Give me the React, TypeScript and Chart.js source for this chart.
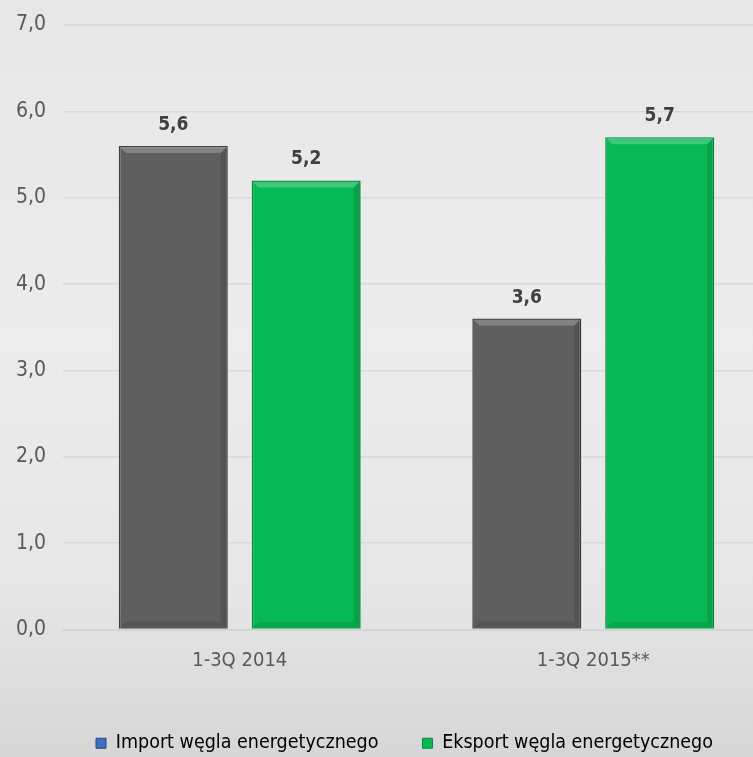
import React, { useEffect, useRef } from "react";
import { Chart, registerables } from "chart.js";

Chart.register(...registerables);

const categories = ["1-3Q 2014", "1-3Q 2015**"];
const importValues = [5.6, 3.6];
const exportValues = [5.2, 5.7];
const seriesNames = ["Import węgla energetycznego", "Eksport węgla energetycznego"];
const yMin = 0;
const yMax = 7;
const yStep = 1;

const FONT = "'DejaVu Sans Condensed', 'Liberation Sans Narrow', sans-serif";

const fmt = (v: number) => v.toFixed(1).replace(".", ",");

const bevelPlugin = {
  id: "bevel",
  afterDatasetsDraw(chart: any) {
    const ctx = chart.ctx;
    chart.data.datasets.forEach((ds: any, di: number) => {
      const meta = chart.getDatasetMeta(di);
      meta.data.forEach((bar: any) => {
        const w = bar.width;
        const l = bar.x - w / 2;
        const r = bar.x + w / 2;
        const t = bar.y;
        const b = bar.base;
        const s = 7;
        ctx.save();
        ctx.fillStyle = "rgba(255,255,255,0.22)";
        ctx.beginPath();
        ctx.moveTo(l + 1, t + 1);
        ctx.lineTo(r - 1, t + 1);
        ctx.lineTo(r - s, t + s);
        ctx.lineTo(l + s, t + s);
        ctx.closePath();
        ctx.fill();
        ctx.fillStyle = "rgba(0,0,0,0.12)";
        ctx.beginPath();
        ctx.moveTo(r - 1, t + 1);
        ctx.lineTo(r - 1, b - 1);
        ctx.lineTo(r - s, b - s);
        ctx.lineTo(r - s, t + s);
        ctx.closePath();
        ctx.fill();
        ctx.fillStyle = "rgba(0,0,0,0.10)";
        ctx.beginPath();
        ctx.moveTo(l + 1, b - 1);
        ctx.lineTo(r - 1, b - 1);
        ctx.lineTo(r - s, b - s);
        ctx.lineTo(l + s, b - s);
        ctx.closePath();
        ctx.fill();
        ctx.restore();
      });
    });
  },
};

const labelPlugin = {
  id: "valueLabels",
  afterDatasetsDraw(chart: any) {
    const ctx = chart.ctx;
    ctx.save();
    ctx.font = `bold 19px ${FONT}`;
    ctx.fillStyle = "#404040";
    ctx.textAlign = "center";
    ctx.textBaseline = "alphabetic";
    chart.data.datasets.forEach((ds: any, di: number) => {
      const meta = chart.getDatasetMeta(di);
      meta.data.forEach((bar: any, i: number) => {
        ctx.fillText(fmt(ds.data[i]), bar.x, bar.y - 16);
      });
    });
    ctx.restore();
  },
};

const legendShiftPlugin = {
  id: "legendShift",
  afterLayout(chart: any) {
    const lg = chart.legend;
    if (!lg) return;
    const shift = 404.5 - (lg.left + lg.right) / 2;
    lg.left += shift;
    lg.right += shift;
    if (lg.legendHitBoxes) lg.legendHitBoxes.forEach((h: any) => { h.left += shift; });
  },
};

export default function App() {
  const ref = useRef<HTMLCanvasElement>(null);
  useEffect(() => {
    if (!ref.current) return;
    const chart = new Chart(ref.current, {
      type: "bar",
      data: {
        labels: categories,
        datasets: [
          {
            label: seriesNames[0],
            data: importValues,
            backgroundColor: "#5f5f5f",
            borderColor: "#3e3e3e",
            borderWidth: 1.5,
          },
          {
            label: seriesNames[1],
            data: exportValues,
            backgroundColor: "#07b955",
            borderColor: "#04883d",
            borderWidth: 1.5,
          },
        ],
      },
      options: {
        animation: false,
        responsive: false,
        maintainAspectRatio: false,
        layout: { padding: { left: 16, top: 25, right: 0, bottom: 0 } },
        datasets: {
          bar: { categoryPercentage: 0.752, barPercentage: 0.82 },
        },
        plugins: {
          tooltip: { enabled: false },
          legend: {
            position: "bottom",
            labels: {
              font: { family: FONT, size: 19.5 },
              color: "#404040",
              boxWidth: 10,
              boxHeight: 10,
              padding: 44,
              generateLabels: () => [
                { text: seriesNames[0], fillStyle: "#3f6fc0", strokeStyle: "#23478a", lineWidth: 1, datasetIndex: 0, hidden: false },
                { text: seriesNames[1], fillStyle: "#07b955", strokeStyle: "#04883d", lineWidth: 1, datasetIndex: 1, hidden: false },
              ] as any,
            },
          },
        },
        scales: {
          x: {
            grid: { display: false, drawTicks: false },
            border: { display: true, color: "#d4d4d4", width: 2 },
            ticks: { font: { family: FONT, size: 20 }, color: "#595959", padding: 19 },
            afterFit: (s: any) => { s.height = 60; },
          },
          y: {
            min: yMin,
            max: yMax,
            ticks: {
              stepSize: yStep,
              font: { family: FONT, size: 21 },
              color: "#595959",
              padding: 0,
              crossAlign: "far",
              callback: (v: any) => fmt(Number(v)),
            },
            grid: { color: "#d9d9d9", lineWidth: 1.5, drawTicks: false },
            border: { display: false },
            afterFit: (s: any) => { s.width = 47; },
          },
        },
      },
      plugins: [bevelPlugin, labelPlugin, legendShiftPlugin],
    });
    return () => chart.destroy();
  }, []);

  return (
    <div
      style={{
        position: "fixed",
        left: 0,
        top: 0,
        width: 753,
        height: 757,
        overflow: "hidden",
        background: "linear-gradient(180deg, #e7e7e7 0%, #ececec 45%, #e6e6e6 78%, #d6d6d6 100%)",
      }}
    >
      <canvas ref={ref} width={770} height={763} style={{ display: "block" }} />
    </div>
  );
}
